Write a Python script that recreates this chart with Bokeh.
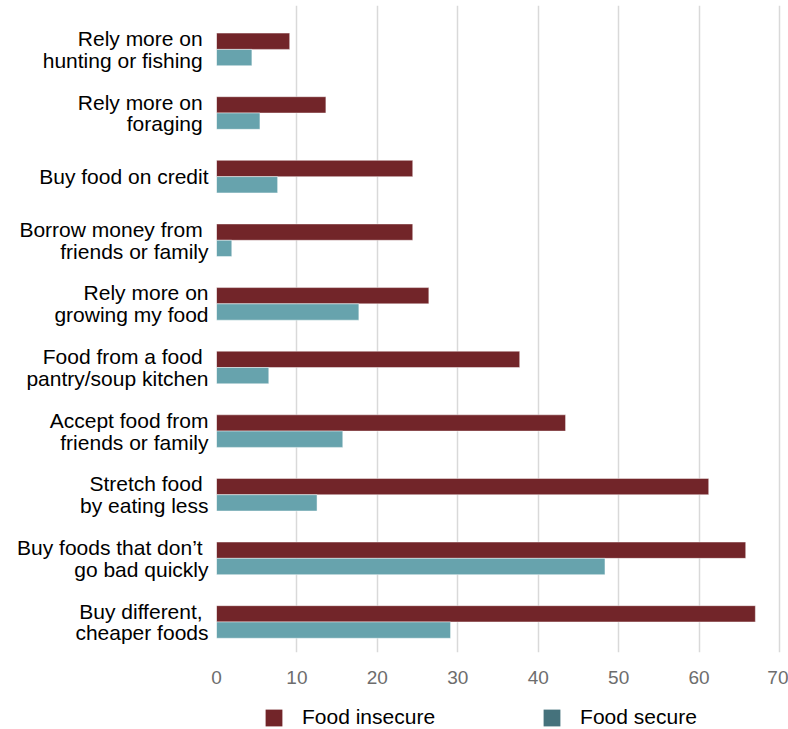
from bokeh.plotting import figure
from bokeh.layouts import column
from bokeh.models import Range1d, FixedTicker, Legend, LegendItem, ColumnDataSource
from bokeh.transform import dodge
from bokeh.embed import file_html
from bokeh.resources import INLINE

categories = [
    "Rely more on \nhunting or fishing ",
    "Rely more on \nforaging ",
    "Buy food on credit",
    "Borrow money from \nfriends or family",
    "Rely more on\ngrowing my food",
    "Food from a food \npantry/soup kitchen",
    "Accept food from\nfriends or family",
    "Stretch food \nby eating less",
    "Buy foods that don\u2019t \ngo bad quickly",
    "Buy different, \ncheaper foods",
]
food_insecure = [9.1, 13.6, 24.4, 24.4, 26.4, 37.7, 43.4, 61.2, 65.8, 67.0]
food_secure = [4.4, 5.4, 7.6, 1.9, 17.7, 6.5, 15.7, 12.5, 48.3, 29.1]
x_ticks = [0, 10, 20, 30, 40, 50, 60, 70]
series_names = ["Food insecure", "Food secure"]

BAR_INSECURE = "#722529"
BAR_SECURE = "#67a3ad"
LEG_INSECURE = "#722529"
LEG_SECURE = "#45727c"
FONT = "Liberation Sans"

ys = list(range(len(categories)))
source = ColumnDataSource(dict(y=ys, insecure=food_insecure, secure=food_secure))

p = figure(width=788, height=700, output_backend="svg", toolbar_location=None,
           x_range=Range1d(0, 71.12), y_range=Range1d(9.48, -0.69),
           min_border_left=216, min_border_right=0, min_border_top=5, min_border_bottom=48)

p.hbar(y=dodge("y", -0.128), left=0, right="insecure", height=0.256, source=source,
       fill_color=BAR_INSECURE, line_color="white", line_alpha=0.45, line_width=1)
p.hbar(y=dodge("y", 0.128), left=0, right="secure", height=0.256, source=source,
       fill_color=BAR_SECURE, line_color="white", line_alpha=0.45, line_width=1)

# y axis
p.yaxis.ticker = FixedTicker(ticks=ys)
p.yaxis.major_label_overrides = {i: c for i, c in zip(ys, categories)}
p.yaxis.major_label_text_font = FONT
p.yaxis.major_label_text_font_size = "21px"
p.yaxis.major_label_text_color = "#000000"
p.yaxis.major_label_text_line_height = 0.95
p.yaxis.major_label_standoff = 8
p.yaxis.major_tick_out = 0
p.yaxis.major_tick_in = 0
p.yaxis.major_tick_line_color = None
p.yaxis.minor_tick_line_color = None
p.yaxis.axis_line_color = None

# x axis
p.xaxis.ticker = FixedTicker(ticks=x_ticks)
p.xaxis.major_label_text_font = FONT
p.xaxis.major_label_text_font_size = "19px"
p.xaxis.major_label_text_color = "#6d6d6d"
p.xaxis.major_label_standoff = 18
p.xaxis.major_tick_out = 0
p.xaxis.major_tick_in = 0
p.xaxis.major_tick_line_color = None
p.xaxis.minor_tick_line_color = None
p.xaxis.axis_line_color = None

p.xgrid.ticker = FixedTicker(ticks=x_ticks)
p.xgrid.grid_line_color = "#d9d9d9"
p.xgrid.grid_line_width = 1.5
p.ygrid.grid_line_color = None
p.outline_line_color = None

# legend strip below the chart (its frame is aligned with the chart frame)
lg = figure(width=788, height=29, output_backend="svg", toolbar_location=None,
            x_range=Range1d(0, 1), y_range=Range1d(0, 1),
            x_axis_type=None, y_axis_type=None,
            min_border_left=0, min_border_right=0, min_border_top=0, min_border_bottom=0)
lg.grid.visible = False
lg.outline_line_color = None
# zero-size proxy glyphs that only carry the legend swatch colours
r1 = lg.hbar(y=[0], left=[0], right=[0], height=0, fill_color=LEG_INSECURE, line_color=None)
r2 = lg.hbar(y=[0], left=[0], right=[0], height=0, fill_color=LEG_SECURE, line_color=None)

legend = Legend(items=[LegendItem(label=series_names[0], renderers=[r1]),
                       LegendItem(label=series_names[1], renderers=[r2])],
                orientation="horizontal", location=(47, 0),
                glyph_width=21, glyph_height=21, label_standoff=18, spacing=106,
                padding=0, margin=0, border_line_color=None, background_fill_alpha=0,
                label_text_font=FONT, label_text_font_size="21px",
                label_text_color="#000000")
lg.add_layout(legend)

layout = column(p, lg, spacing=0)
open("out.html", "w").write(file_html(layout, INLINE))
